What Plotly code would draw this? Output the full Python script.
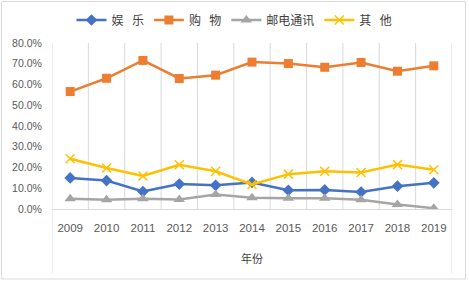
import plotly.graph_objects as go

years = ["2009", "2010", "2011", "2012", "2013", "2014", "2015", "2016", "2017", "2018", "2019"]
yule = [15.0, 13.7, 8.4, 12.0, 11.4, 12.8, 9.0, 9.2, 8.2, 11.0, 12.6]
gouwu = [56.6, 63.0, 71.6, 62.9, 64.5, 70.8, 70.1, 68.3, 70.6, 66.4, 69.0]
youdian = [5.0, 4.4, 5.0, 4.6, 7.0, 5.4, 5.2, 5.2, 4.4, 2.2, 0.4]
qita = [24.2, 19.8, 15.9, 21.3, 18.2, 11.8, 16.8, 18.2, 17.6, 21.4, 18.9]
series_names = ["娱\u2002\u2009乐", "购\u2002\u2009物", "邮电通讯", "其\u2002\u2009他"]
x_title = "年份"

W, H = 469, 283
L, R, T, B = 52, 17, 43, 74
pw, ph = W - L - R, H - T - B

xs = list(range(len(years)))
fig = go.Figure()
styles = [
    ("#4472C4", dict(symbol="diamond", size=9)),
    ("#ED7D31", dict(symbol="square", size=9)),
    ("#A5A5A5", dict(symbol="triangle-up", size=10)),
    ("#FFC000", dict(symbol="x-thin-open", size=9, line=dict(width=1.5, color="#FFC000"))),
]
for name, vals, (col, mk) in zip(series_names, [yule, gouwu, youdian, qita], styles):
    m = dict(color=col, **mk)
    fig.add_trace(go.Scatter(x=xs, y=vals, name=name, mode="lines+markers",
                             line=dict(color=col, width=2.5), marker=m))

shapes = []
n = len(years)
for i in range(n + 1):
    xv = i - 0.5
    y0 = 0
    if i == 0 or i == n:
        y0 = -(273 - 209) / ph
    shapes.append(dict(type="line", xref="x", yref="paper", x0=xv, x1=xv, y0=y0, y1=1,
                       line=dict(color="#D9D9D9", width=1), layer="below"))
# outer chart border
shapes.append(dict(type="rect", xref="paper", yref="paper",
                   x0=(1.5 - L) / pw, x1=(465.5 - L) / pw,
                   y0=-(279 - (H - B)) / ph, y1=((H - B) - 1.5) / ph,
                   line=dict(color="#D9D9D9", width=1), layer="below"))

fig.update_layout(
    width=W, height=H, margin=dict(l=L, r=R, t=T, b=B, autoexpand=False),
    paper_bgcolor="white", plot_bgcolor="white",
    font=dict(family="Liberation Sans, Noto Sans CJK SC", color="#595959", size=11),
    shapes=shapes,
    legend=dict(orientation="h", xref="container", yref="container",
                x=0.5, xanchor="center", y=1 - 20 / H, yanchor="middle",
                font=dict(family="Noto Sans CJK SC", size=12, color="#404040"),
                itemwidth=30, tracegroupgap=0),
    xaxis=dict(range=[-0.5, n - 0.5], tickmode="array", tickvals=xs, ticktext=years,
               showgrid=False, zeroline=False, showline=True, linecolor="#D9D9D9",
               ticks="outside", ticklen=8, tickcolor="rgba(0,0,0,0)", automargin=False,
               tickfont=dict(size=11.5, color="#595959")),
    yaxis=dict(range=[0, 80], dtick=10, tickformat=".1f", ticksuffix="%",
               showgrid=False, zeroline=False, showline=False, automargin=False,
               ticks="outside", ticklen=7, tickcolor="rgba(0,0,0,0)",
               tickfont=dict(size=10.5, color="#595959")),
    annotations=[dict(text=x_title, xref="paper", yref="paper", x=0.5,
                      y=-(258 - (H - B)) / ph, showarrow=False, yanchor="middle",
                      font=dict(family="Noto Sans CJK SC", size=11, color="#404040"))],
)

fig.write_html("out.html", config={"displayModeBar": False},
               post_script="document.body.style.margin='0';document.body.style.overflow='hidden';")
